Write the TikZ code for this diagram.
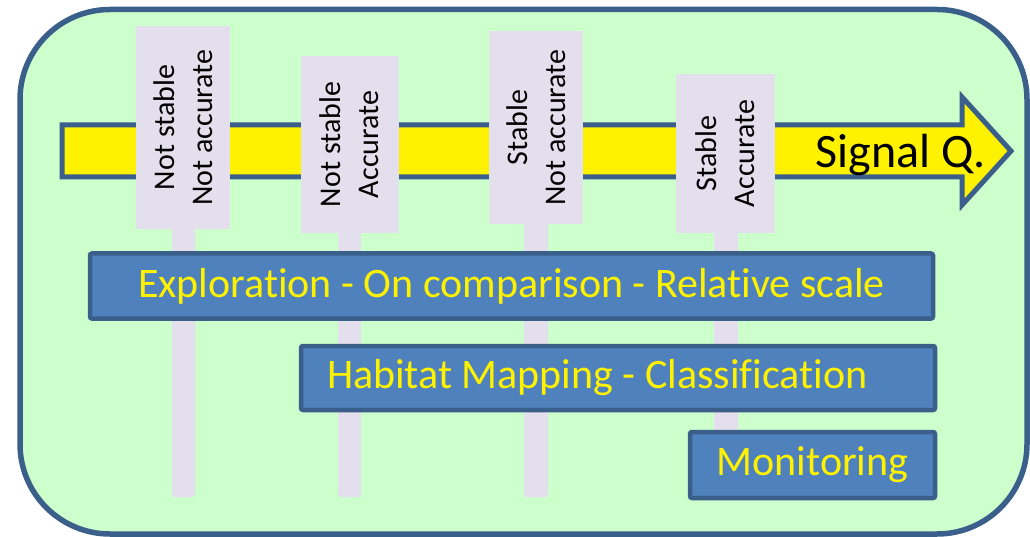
\documentclass[tikz,border=0pt]{standalone}
\usepackage{fontspec}
\setmainfont{Carlito}[Ligatures=NoCommon]
\usepackage{tikz}
\usetikzlibrary{positioning, calc}
\definecolor{panelgreen}{HTML}{CCFFCC}
\definecolor{edgeblue}{HTML}{3A5F8B}
\definecolor{boxblue}{HTML}{4F81BD}
\definecolor{tagpurple}{HTML}{E4DFEC}
\tikzset{
    tag/.style={rotate=90, fill=tagpurple, align=center, inner sep=0pt, font=\fontsize{30}{38}\selectfont},
    stem/.style={fill=tagpurple, rounded corners=3pt},
    task/.style={draw=edgeblue, fill=boxblue, line width=4.5pt, rounded corners=2pt, text=yellow, inner sep=0pt, font=\fontsize{42}{50}\selectfont},
}

\begin{document}
\begin{tikzpicture}[x=1pt, y=-1pt]
    \useasboundingbox (0,0) rectangle (1030,537);

    \draw[draw=edgeblue, fill=panelgreen, line width=5.5pt, rounded corners=90pt] (20,9.5) rectangle (1027,534);

    % signal quality arrow
    \draw[draw=edgeblue, fill=yellow, line width=5pt] (62,125) -- (962,125) -- (962,97) -- (1011,151) -- (962,205) -- (962,177) -- (62,177) -- cycle;
    \node[anchor=base east, inner sep=0pt, font=\fontsize{48}{56}\selectfont] (signal) at (986,168) {Signal Q.};

    % stems
    \fill[stem] (172,200) rectangle (195,497);
    \fill[stem] (338,200) rectangle (361,497);
    \fill[stem] (524,200) rectangle (548,497);
    \fill[stem] (714,200) rectangle (738,497);

    \node[tag, minimum width=203, minimum height=94] (t1) at (183,127.5) {Not stable\\Not accurate};
    \node[tag, minimum width=177, minimum height=98] (t2) at (349.5,144.5) {Not stable\\Accurate};
    \node[tag, minimum width=193, minimum height=94] (t3) at (536,127.5) {Stable\\Not accurate};
    \node[tag, minimum width=159, minimum height=99] (t4) at (725.5,153.5) {Stable\\Accurate};

    \node[task, minimum width=843, minimum height=65] (explore) at (511.5,286) {Exploration - On comparison - Relative scale};
    \node[task, text width=582, inner xsep=26pt, minimum height=64, align=flush left] (habitat) at (618,378) {Habitat Mapping - Classification};
    \node[task, minimum width=245, minimum height=66] (monitor) at (812.5,465) {Monitoring};
\end{tikzpicture}
\end{document}
